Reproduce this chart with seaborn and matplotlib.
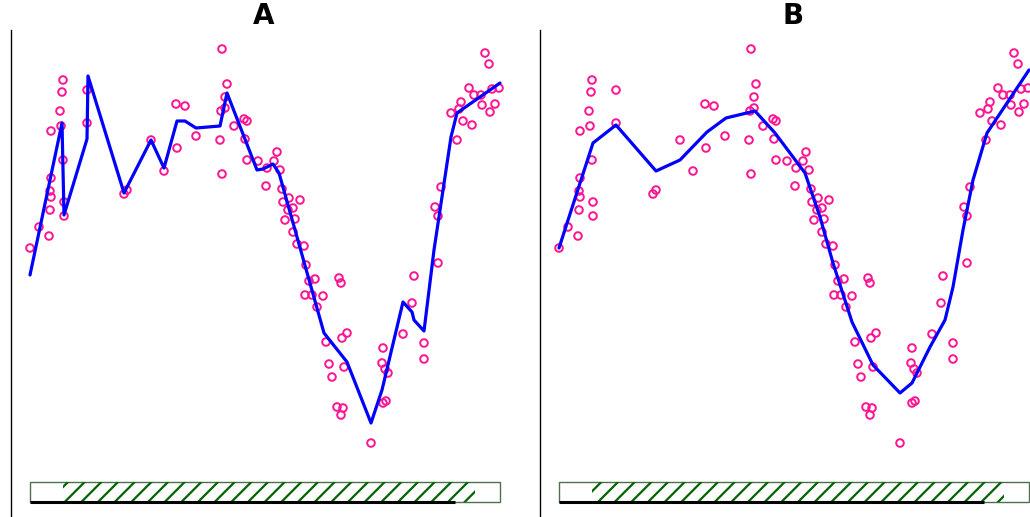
import numpy as np
import pandas as pd
import matplotlib
matplotlib.use("Agg")
import matplotlib.pyplot as plt
from matplotlib.patches import Rectangle
import seaborn as sns

# Observed measurements (time, response)
obs_x = [0.0, 0.9, 1.9, 2.0, 2.1, 2.0, 2.1, 2.1, 3.1, 3.0, 3.3, 3.2, 3.3, 3.4, 3.4,
         5.7, 5.7, 9.4, 9.7, 12.1, 13.4, 14.6, 14.7, 15.5, 16.6, 19.0, 19.2, 19.2,
         19.1, 19.5, 19.5, 19.7, 20.4, 21.4, 21.7, 21.5, 21.7, 22.8, 23.6, 23.7,
         24.4, 24.7, 25.0, 25.2, 25.9, 27.0, 25.3, 26.3, 25.8, 26.5, 25.5, 26.3,
         26.7, 27.4, 27.6, 28.5, 27.9, 30.9, 31.1, 27.5, 28.2, 29.3, 28.7, 31.7,
         31.2, 29.6, 29.9, 31.4, 30.2, 30.7, 31.3, 31.1, 34.1, 35.3, 35.2, 35.5,
         35.8, 35.3, 35.6, 38.4, 38.2, 37.3, 39.4, 39.4, 40.8, 40.5, 40.8, 41.1,
         42.7, 42.1, 42.9, 43.1, 43.3, 44.2, 43.9, 44.4, 45.1, 45.2, 46.2, 46.9,
         46.5, 46.0, 45.5, 45.9]
obs_y = [21.2, 23.3, 22.4, 25.0, 26.3, 26.9, 28.2, 32.9, 33.4, 34.9, 30.0, 36.8, 38.0,
         25.8, 24.4, 33.7, 37.0, 26.6, 27.0, 32.0, 28.9, 35.6, 31.2, 35.4, 32.4,
         32.0, 41.1, 28.6, 34.9, 35.2, 36.3, 37.6, 33.4, 34.1, 33.9, 32.1, 30.0,
         29.9, 27.4, 29.2, 29.9, 30.8, 29.0, 27.1, 26.2, 26.0, 25.8, 25.2, 25.0,
         24.1, 24.0, 22.8, 21.6, 21.4, 19.5, 18.1, 17.9, 18.2, 17.7, 16.5, 16.5,
         16.4, 15.3, 12.7, 12.2, 11.8, 9.6, 9.3, 8.3, 5.3, 5.2, 4.5, 1.7, 11.2,
         9.7, 9.1, 8.7, 5.7, 5.9, 18.4, 15.7, 12.6, 11.7, 10.1, 19.7, 25.3, 24.4,
         27.3, 32.0, 34.7, 35.1, 35.8, 33.9, 33.5, 37.2, 36.5, 36.5, 35.5, 37.1,
         37.2, 35.6, 34.8, 40.7, 39.6]

# Fit A: narrow-span smoother
fit_a_x = [0.0, 3.2, 3.4, 5.7, 5.8, 9.4, 12.1, 13.4, 14.7, 15.5, 16.6, 19.0, 19.7,
           22.7, 23.3, 24.3, 24.9, 29.4, 31.7, 34.1, 35.2, 37.3, 38.2, 38.4, 39.4,
           40.4, 42.1, 42.7, 47.0]
fit_a_y = [18.5, 33.7, 24.5, 32.1, 38.4, 26.7, 32.0, 29.2, 33.9, 33.9, 33.2, 33.4, 36.7,
           29.0, 29.1, 29.6, 28.7, 12.7, 9.8, 3.7, 7.0, 15.8, 14.8, 14.0, 12.9,
           21.0, 32.3, 34.7, 37.7]

# Fit B: wide-span smoother
fit_b_x = [0.0, 3.4, 5.7, 9.7, 12.1, 14.8, 16.7, 19.6, 21.6, 24.6, 26.1, 27.4, 29.3,
           31.4, 34.1, 35.3, 37.1, 38.6, 39.4, 40.4, 41.4, 42.8, 47.0]
fit_b_y = [21.2, 31.7, 33.5, 28.9, 30.0, 32.8, 34.2, 34.9, 32.7, 28.7, 24.3, 19.7, 13.8,
           9.5, 6.7, 7.7, 11.3, 14.0, 17.3, 23.0, 28.0, 32.7, 39.0]

panel_titles = ["A", "B"]

# Span indicator strip: full range, hatched window, covered range
strip_range = (0.0, 47.0)
hatch_range = (3.3, 44.5)
cover_range = (0.0, 42.5)
strip_y = (-4.2, -2.2)

obs = pd.DataFrame({"x": obs_x, "y": obs_y})
fits = [pd.DataFrame({"x": fit_a_x, "y": fit_a_y}),
        pd.DataFrame({"x": fit_b_x, "y": fit_b_y})]

sns.set_style("white")
plt.rcParams["font.family"] = ["DejaVu Sans"]
plt.rcParams["hatch.linewidth"] = 1.6

fig = plt.figure(figsize=(10.30, 5.17), dpi=100)
lefts = [11 / 1030, 540 / 1030]
for left, title, fit in zip(lefts, panel_titles, fits):
    ax = fig.add_axes([left, 0.0, 506 / 1030, 487 / 517])
    sns.scatterplot(data=obs, x="x", y="y", ax=ax, s=30, marker="o",
                    facecolors="none", edgecolor="#ff1493", linewidth=1.4,
                    legend=False, zorder=3)
    sns.lineplot(data=fit, x="x", y="y", ax=ax, sort=False, estimator=None,
                 color="#0000ff", linewidth=2.3, zorder=4)

    # strip at the bottom
    ax.add_patch(Rectangle((strip_range[0], strip_y[0]),
                           strip_range[1] - strip_range[0], strip_y[1] - strip_y[0],
                           facecolor="white", edgecolor="#4f6f4f", linewidth=1.0,
                           zorder=2))
    ax.add_patch(Rectangle((hatch_range[0], strip_y[0]),
                           hatch_range[1] - hatch_range[0], strip_y[1] - strip_y[0],
                           facecolor="none", edgecolor="#006400", linewidth=0,
                           hatch="//", zorder=2.5))
    ax.plot(cover_range, [strip_y[0], strip_y[0]], color="black",
            linewidth=2.2, solid_capstyle="butt", zorder=3)

    ax.set_xlim(-1.9, 48.7)
    ax.set_ylim(-5.7, 43.0)
    ax.set_title(title, fontsize=20, fontweight="bold", pad=4, color="black")
    ax.set_xlabel("")
    ax.set_ylabel("")
    ax.set_xticks([])
    ax.set_yticks([])
    for side in ["top", "right", "bottom"]:
        ax.spines[side].set_visible(False)
    ax.spines["left"].set_color("black")
    ax.spines["left"].set_linewidth(1.0)

fig.savefig("out.png", dpi=100)
